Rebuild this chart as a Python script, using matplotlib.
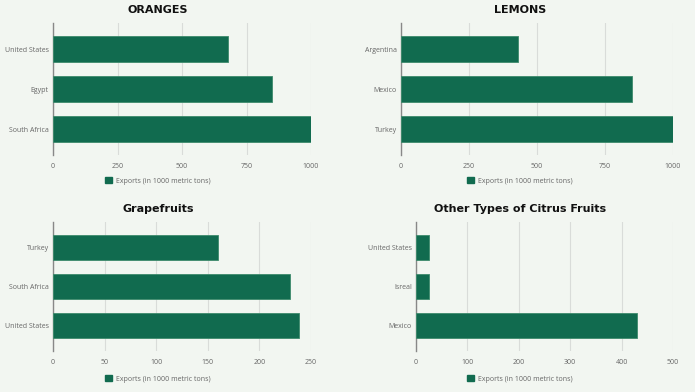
import matplotlib.pyplot as plt
from matplotlib.patches import Patch

# data
oranges_countries = ['United States', 'Egypt', 'South Africa']
oranges_exports = [680, 850, 1000]

lemons_countries = ['Argentina', 'Mexico', 'Turkey']
lemons_exports = [430, 850, 1000]

grapefruit_countries = ['Turkey', 'South Africa', 'United States']
grapefruit_exports = [160, 230, 238]

other_countries = ['United States', 'Isreal', 'Mexico']
other_exports = [25, 25, 430]

bg = '#f2f6f1'
bar_color = '#116b4f'
text_color = '#666666'
legend_label = 'Exports (in 1000 metric tons)'

plt.rcParams['font.family'] = ['Open Sans', 'DejaVu Sans']

fig = plt.figure(figsize=(6.95, 3.92), dpi=100, facecolor=bg)

# title, labels, values, axis max, tick step, axes box in px,
# centre x of title/legend, title y, legend y (px)
panels = [
    ('ORANGES', oranges_countries, oranges_exports, 1000, 250,
     [53, 23, 311, 155], 158, 10, 181),
    ('LEMONS', lemons_countries, lemons_exports, 1000, 250,
     [401, 23, 673, 155], 520, 10, 181),
    ('Grapefruits', grapefruit_countries, grapefruit_exports, 250, 50,
     [53, 222, 311, 351], 158, 209, 379),
    ('Other Types of Citrus Fruits', other_countries, other_exports, 500, 100,
     [416, 222, 673, 351], 520, 209, 379),
]

W, H = 695, 392
for title, countries, values, xmax, step, (x0, y0, x1, y1), cx, ty, ly in panels:
    ax = fig.add_axes([x0 / W, 1 - y1 / H, (x1 - x0) / W, (y1 - y0) / H])
    ax.set_facecolor(bg)
    pos = range(len(countries))
    ax.barh(pos, values, height=0.65, color=bar_color,
            edgecolor='#3d8a6c', linewidth=0.6, zorder=3)
    ax.set_yticks(list(pos))
    ax.set_yticklabels(countries)
    ax.set_ylim(2.65, -0.65)
    ax.set_xlim(0, xmax)
    ax.set_xticks(range(0, xmax + 1, step))
    ax.grid(axis='x', color='#d9dcd9', linewidth=0.8, zorder=0)
    ax.tick_params(axis='both', length=0, labelsize=5.0, labelcolor=text_color)
    ax.tick_params(axis='y', pad=3)
    ax.tick_params(axis='x', pad=6)
    for side in ['top', 'right', 'bottom']:
        ax.spines[side].set_visible(False)
    ax.spines['left'].set_color('#888888')
    ax.spines['left'].set_linewidth(1.0)
    fig.text(cx / W, 1 - ty / H, title, fontsize=8, fontweight='bold',
             family='DejaVu Sans', color='#111111', ha='center', va='center')
    handle = Patch(facecolor=bar_color, edgecolor=bar_color)
    ax.legend([handle], [legend_label], loc='center',
              bbox_to_anchor=((cx - x0) / (x1 - x0), (y1 - ly) / (y1 - y0)),
              frameon=False, fontsize=5.0,
              labelcolor=text_color, handlelength=0.9, handleheight=0.9,
              handletextpad=0.6)

fig.savefig('out.png', dpi=100, facecolor=bg)
